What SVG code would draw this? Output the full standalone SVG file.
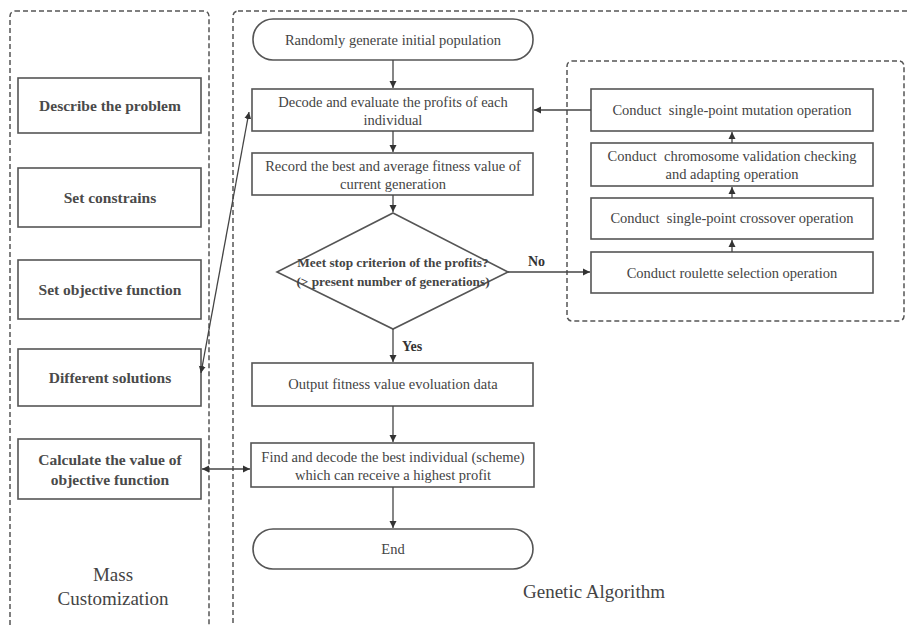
<svg xmlns="http://www.w3.org/2000/svg" width="910" height="625" viewBox="0 0 910 625">
<style>
.cont{fill:none;stroke:#555;stroke-width:1.5;stroke-dasharray:5,3}
.box{fill:#fff;stroke:#555;stroke-width:1.6}
.t{font-family:"Liberation Serif","Times New Roman",serif;font-size:14.5px;fill:#444;text-anchor:middle}
.lt{font-family:"Liberation Serif","Times New Roman",serif;font-size:15.5px;fill:#4a4a4a;text-anchor:middle;font-weight:bold}
.dt{font-family:"Liberation Serif","Times New Roman",serif;font-size:13.3px;fill:#444;text-anchor:middle;font-weight:bold}
.lbl{font-family:"Liberation Serif","Times New Roman",serif;font-size:14px;fill:#333;font-weight:bold}
.big{font-family:"Liberation Serif","Times New Roman",serif;font-size:19px;fill:#444;text-anchor:middle}
.c{fill:none;stroke:#444;stroke-width:1.3}
</style>
<defs>
<marker id="ah" markerWidth="8" markerHeight="8" refX="7" refY="4" orient="auto" markerUnits="userSpaceOnUse">
<path d="M0,0.5 L7,4 L0,7.5 z" fill="#333"/>
</marker>
<marker id="ahs" markerWidth="8" markerHeight="8" refX="7" refY="4" orient="auto-start-reverse" markerUnits="userSpaceOnUse">
<path d="M0,0.5 L7,4 L0,7.5 z" fill="#333"/>
</marker>
</defs>
<rect width="910" height="625" fill="#fff"/>
<g id="containers">
<rect class="cont" x="10" y="11" width="199" height="630" rx="5"/>
<rect class="cont" x="233" y="11" width="690" height="630" rx="5"/>
<rect class="cont" x="567" y="61" width="337" height="260" rx="5"/>
<text class="big" x="113" y="581">Mass</text>
<text class="big" x="113" y="605">Customization</text>
<text class="big" x="594" y="598">Genetic Algorithm</text>
</g>
<g id="describe"><rect class="box" x="18" y="78" width="183" height="55"/><text class="lt" x="110" y="111">Describe the problem</text></g>
<g id="constrains"><rect class="box" x="18" y="168" width="183" height="59"/><text class="lt" x="110" y="203">Set constrains</text></g>
<g id="objective"><rect class="box" x="18" y="260" width="183" height="59"/><text class="lt" x="110" y="295">Set objective function</text></g>
<g id="solutions"><rect class="box" x="18" y="349" width="183" height="57"/><text class="lt" x="110" y="383">Different solutions</text></g>
<g id="calculate"><rect class="box" x="18" y="439" width="183" height="60"/><text class="lt" x="110" y="465">Calculate the value of</text><text class="lt" x="110" y="485">objective function</text></g>
<g id="start"><rect class="box" x="253" y="19" width="280" height="41" rx="20"/><text class="t" x="393" y="45">Randomly generate initial population</text></g>
<g id="decode"><rect class="box" x="252" y="89" width="281" height="42"/><text class="t" x="393" y="107">Decode and evaluate the profits of each</text><text class="t" x="393" y="125">individual</text></g>
<g id="record"><rect class="box" x="252" y="153" width="281" height="42"/><text class="t" x="393" y="171">Record the best and average fitness value of</text><text class="t" x="393" y="189">current generation</text></g>
<g id="criterion"><polygon class="box" points="393,213 508,272 393,329 277,272"/><text class="dt" x="393" y="267">Meet stop criterion of the profits?</text><text class="dt" x="393" y="286">(&gt; present number of generations)</text></g>
<g id="output"><rect class="box" x="252" y="363" width="281" height="43"/><text class="t" x="393" y="389">Output fitness value evoluation data</text></g>
<g id="find"><rect class="box" x="251" y="443" width="283" height="44"/><text class="t" x="393" y="462">Find and decode the best individual (scheme)</text><text class="t" x="393" y="480">which can receive a highest profit</text></g>
<g id="end"><rect class="box" x="253" y="529" width="280" height="40" rx="20"/><text class="t" x="393" y="554">End</text></g>
<g id="mutation"><rect class="box" x="591" y="89" width="282" height="42"/><text class="t" x="732" y="115">Conduct&#160; single-point mutation operation</text></g>
<g id="chromosome"><rect class="box" x="591" y="143" width="282" height="43"/><text class="t" x="732" y="161">Conduct&#160; chromosome validation checking</text><text class="t" x="732" y="179">and adapting operation</text></g>
<g id="crossover"><rect class="box" x="591" y="198" width="282" height="41"/><text class="t" x="732" y="223">Conduct&#160; single-point crossover operation</text></g>
<g id="roulette"><rect class="box" x="591" y="252" width="282" height="41"/><text class="t" x="732" y="278">Conduct roulette selection operation</text></g>
<g id="connectors">
<line class="c" x1="393" y1="60" x2="393" y2="88" marker-end="url(#ah)"/>
<line class="c" x1="393" y1="131" x2="393" y2="152" marker-end="url(#ah)"/>
<line class="c" x1="393" y1="195" x2="393" y2="212" marker-end="url(#ah)"/>
<line class="c" x1="393" y1="329" x2="393" y2="362" marker-end="url(#ah)"/>
<line class="c" x1="393" y1="406" x2="393" y2="442" marker-end="url(#ah)"/>
<line class="c" x1="393" y1="487" x2="393" y2="528" marker-end="url(#ah)"/>
<line class="c" x1="508" y1="272" x2="590" y2="272" marker-end="url(#ah)"/>
<line class="c" x1="591" y1="110" x2="534" y2="110" marker-end="url(#ah)"/>
<line class="c" x1="732" y1="252" x2="732" y2="240" marker-end="url(#ah)"/>
<line class="c" x1="732" y1="198" x2="732" y2="187" marker-end="url(#ah)"/>
<line class="c" x1="732" y1="143" x2="732" y2="132" marker-end="url(#ah)"/>
<line class="c" x1="201" y1="373" x2="249" y2="112" marker-start="url(#ahs)" marker-end="url(#ah)"/>
<line class="c" x1="202" y1="469" x2="250" y2="469" marker-start="url(#ahs)" marker-end="url(#ah)"/>
<text class="lbl" x="528" y="266">No</text>
<text class="lbl" x="402" y="351">Yes</text>
</g>
</svg>
